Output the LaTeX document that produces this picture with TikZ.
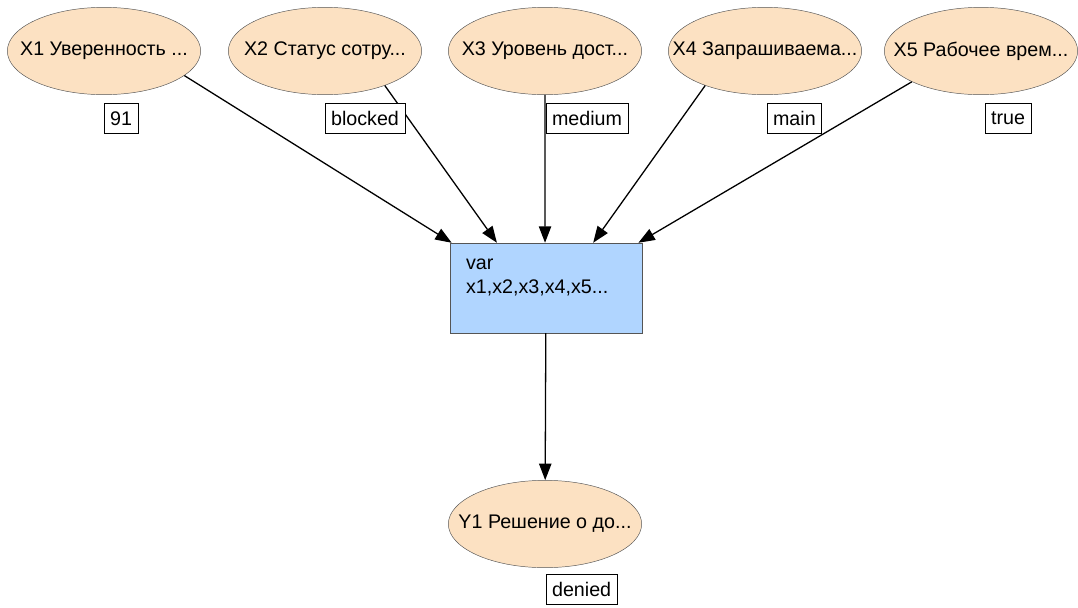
\documentclass[tikz,border=0pt]{standalone}
\usepackage{fontspec}
\setmainfont{Liberation Sans}
\usetikzlibrary{arrows.meta, positioning, calc, shapes.geometric}
\definecolor{Bisque}{RGB}{252,225,194}
\definecolor{SkyBlue}{RGB}{176,213,255}
\definecolor{BorderGray}{RGB}{85,85,85}

\begin{document}
\begin{tikzpicture}[x=0.03cm, y=-0.03cm, font=\fontsize{16.8}{20}\selectfont,
    varnode/.style={ellipse, draw=BorderGray, fill=Bisque, minimum width=5.8cm,
        minimum height=2.62cm, inner sep=0pt},
    funcbox/.style={rectangle, draw=BorderGray, fill=SkyBlue, minimum width=5.76cm,
        minimum height=2.7cm, text width=4.8cm, inner xsep=0.48cm, align=left},
    valuebox/.style={rectangle, draw=black, fill=white, inner xsep=5pt, inner ysep=0pt,
        minimum height=0.9cm, anchor=north west},
    link/.style={draw, line width=1.1pt, -{Triangle[length=14pt, width=10.5pt]}}]

\useasboundingbox (0,0) rectangle (1078,607);

% variables de entrada
\foreach \i/\x/\txt in {1/104/{X1 Уверенность ...}, 2/325/{X2 Статус сотру...},
        3/545/{X3 Уровень дост...}, 4/765/{X4 Запрашиваема...}, 5/981/{X5 Рабочее врем...}}{
    \node[varnode] (x\i) at (\x,51) {\makebox[0pt]{\txt}};
}

% nodo de la funcion
\node[funcbox] (var) at (546,288) {var\\x1,x2,x3,x4,x5...\\\mbox{}};

% salida
\node[varnode] (y1) at (545,524) {\makebox[0pt]{Y1 Решение о до...}};

% puntos de llegada sobre el borde superior
\foreach \i/\f in {1/0.01, 2/0.245, 3/0.495, 4/0.745, 5/0.98}{
    \coordinate (in\i) at ($(var.north west)!\f!(var.north east)$);
}

% aristas: i/angulo de salida
\foreach \i/\a in {1/-17, 2/-30, 3/-90, 4/-150, 5/-156}{
    \draw[link] (x\i.\a) -- (in\i);
}
\draw[link] (var) -- (y1);

% valores observados
\foreach \i/\x/\val in {1/104/91, 2/325/blocked, 3/546/medium, 4/767/main, 5/985/true}{
    \node[valuebox] (v\i) at (\x,103) {\val};
}
\node[valuebox] (vy) at (546,574) {denied};

\end{tikzpicture}
\end{document}
